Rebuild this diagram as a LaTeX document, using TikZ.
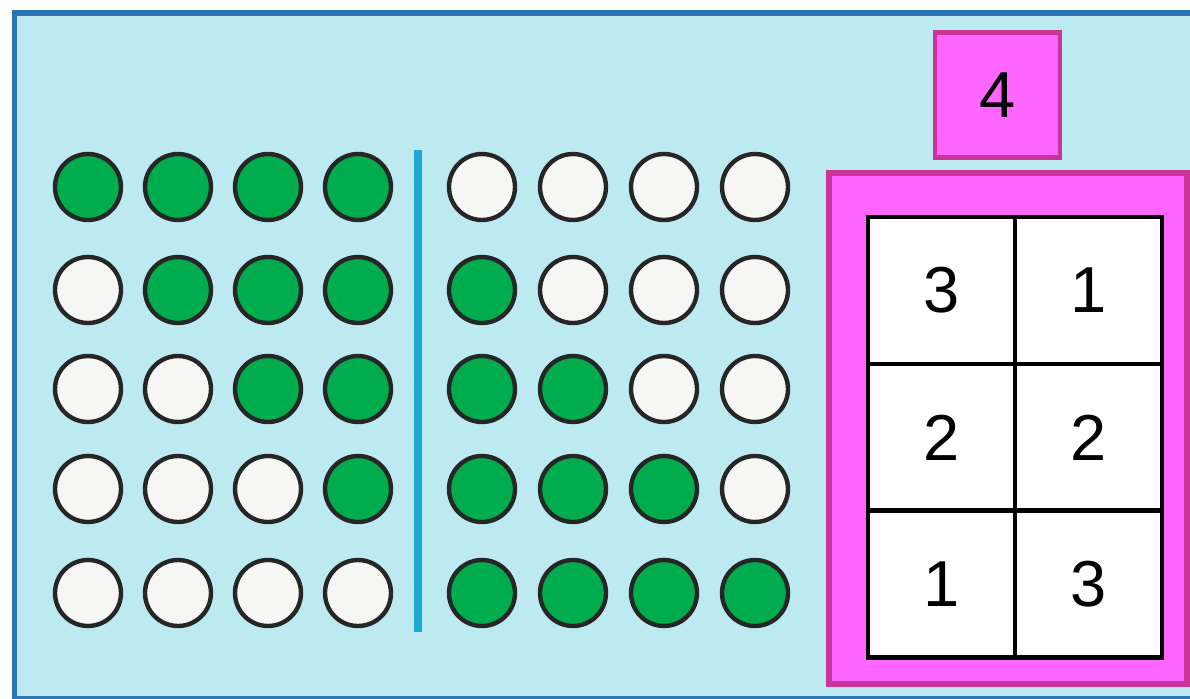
\documentclass[tikz,border=0pt]{standalone}
\usepackage{fontspec}
\setmainfont{Liberation Sans}
\usetikzlibrary{positioning}
\definecolor{sheetblue}{HTML}{2E75B6}
\definecolor{sheetcyan}{HTML}{BDEAF0}
\definecolor{dotgreen}{HTML}{00AC4E}
\definecolor{dotwhite}{HTML}{F6F6F4}
\definecolor{barblue}{HTML}{1CA9DA}
\definecolor{pinkfill}{HTML}{FF66FF}
\definecolor{pinkline}{HTML}{CC3399}
\tikzset{
  dot/.style      = {circle, draw=black!85, line width=2.5pt, minimum size=1.32cm, inner sep=0pt},
  fulldot/.style  = {dot, fill=dotgreen},
  emptydot/.style = {dot, fill=dotwhite},
  cell/.style     = {fill=white, minimum width=2.94cm, minimum height=2.94cm,
                     inner sep=0pt, outer sep=0pt, font=\fontsize{37}{40}\selectfont},
  gridline/.style = {draw=black, line width=2.8pt},
  tag/.style      = {draw=pinkline, line width=2.8pt, fill=pinkfill, minimum width=2.5cm,
                     minimum height=2.5cm, inner sep=0pt, font=\fontsize{37}{40}\selectfont},
}

\begin{document}
\begin{tikzpicture}[x=0.02cm, y=-0.02cm]
  \useasboundingbox (0,0) rectangle (1190,699);
  \clip (0,0) rectangle (1190,699);
  % sheet
  \fill[sheetcyan] (14,13) rectangle (1200,699);
  \draw[sheetblue, line width=3.4pt] (14.5,699) -- (14.5,13) -- (1200,13);
  \draw[sheetblue, line width=3.4pt] (14.5,698.5) -- (1200,698.5);
  % dots, one row per line: 1 = green
  \foreach \row/\pattern [count=\r] in {
      a/{1,1,1,1,0,0,0,0},
      b/{0,1,1,1,1,0,0,0},
      c/{0,0,1,1,1,1,0,0},
      d/{0,0,0,1,1,1,1,0},
      e/{0,0,0,0,1,1,1,1}} {
    \foreach \v [count=\c] in \pattern {
      \pgfmathsetmacro{\xc}{\c<5 ? 88+(\c-1)*90 : 482+(\c-5)*91}
      \pgfmathsetmacro{\yc}{{187,290,389,489,593}[\r-1]}
      \ifnum\v=1
        \node[fulldot] (\row\c) at (\xc,\yc) {};
      \else
        \node[emptydot] (\row\c) at (\xc,\yc) {};
      \fi
    }
  }
  % divider
  \draw[barblue, line width=4.2pt] (418,150) -- (418,632);
  % answer box
  \node[tag] (count) at (997.5,95) {4};
  \node[draw=pinkline, line width=3.4pt, fill=pinkfill, minimum width=7.16cm,
        minimum height=10.22cm] (frame) at (1008,428.5) {};
  \node[cell] (c11) at (941.5,290.5) {3};
  \node[cell, right=0pt of c11] (c12) {1};
  \node[cell, below=0pt of c11] (c21) {2};
  \node[cell, right=0pt of c21] (c22) {2};
  \node[cell, below=0pt of c21] (c31) {1};
  \node[cell, right=0pt of c31] (c32) {3};
  % grid
  \draw[gridline] (c11.north west) rectangle (c32.south east);
  \draw[gridline] (c11.north east) -- (c31.south east);
  \draw[gridline] (c11.south west) -- (c12.south east);
  \draw[gridline] (c21.south west) -- (c22.south east);
\end{tikzpicture}
\end{document}
